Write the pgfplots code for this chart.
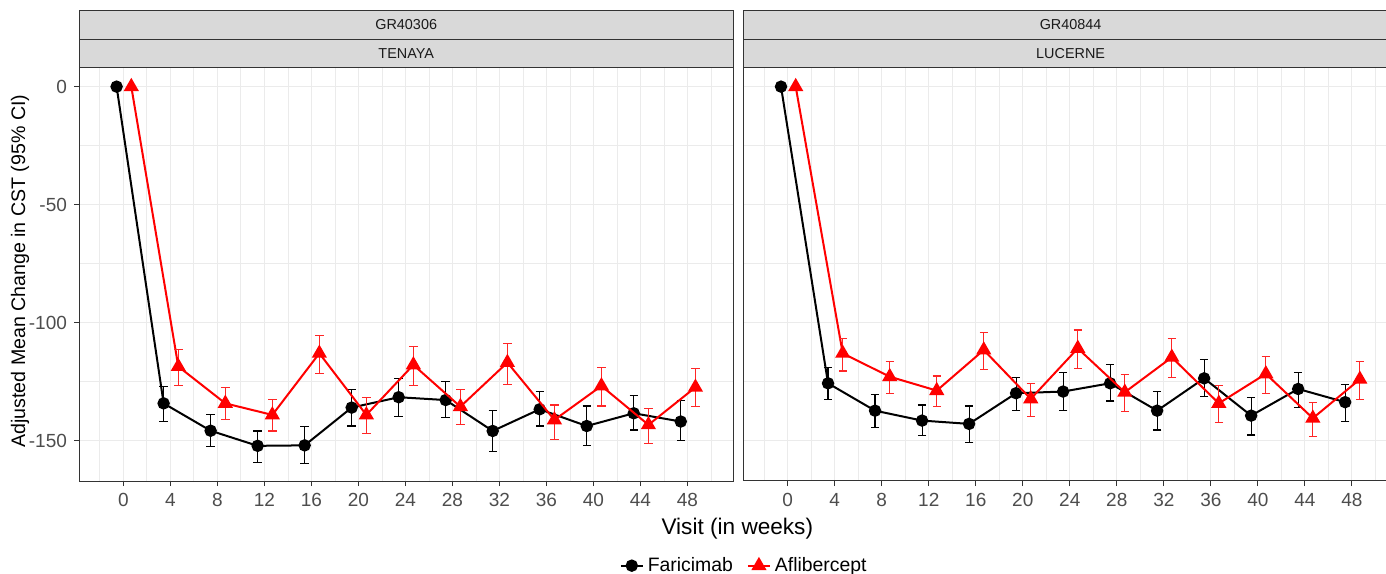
\documentclass[border=0pt]{standalone}
\usepackage{pgfplots}
\pgfplotsset{compat=1.18}
\usepackage{pgfplotstable}
\usepackage{fontspec}
\setmainfont{Liberation Sans}
\definecolor{g92}{HTML}{EBEBEB}
\definecolor{g20}{HTML}{333333}
\definecolor{g30}{HTML}{4D4D4D}
\definecolor{g85}{HTML}{D9D9D9}
\definecolor{g10}{HTML}{1A1A1A}

% week  y  lo  hi
\pgfplotstableread{
w y lo hi
0 0 0 0
4 -134.2 -141.9 -127.1
8 -145.8 -152.5 -138.8
12 -152.2 -159.3 -145.9
16 -152.0 -159.6 -144.1
20 -136.0 -143.8 -128.5
24 -131.6 -139.8 -123.6
28 -132.8 -140.1 -125.0
32 -145.9 -154.7 -137.3
36 -136.7 -143.8 -129.2
40 -143.8 -152.0 -135.3
44 -138.4 -145.5 -130.8
48 -141.9 -150.0 -133.0
}\tenF
\pgfplotstableread{
w y lo hi
0 0 0 0
4 -118.6 -126.7 -111.3
8 -134.2 -141.2 -127.5
12 -139.1 -145.9 -132.5
16 -113.0 -121.4 -105.6
20 -139.1 -146.9 -131.6
24 -117.9 -126.7 -110.2
28 -135.6 -143.3 -128.2
32 -116.9 -126.1 -108.7
36 -141.2 -149.4 -134.9
40 -126.8 -135.3 -119.1
44 -143.3 -151.1 -136.3
48 -127.4 -135.6 -119.3
}\tenA
\pgfplotstableread{
w y lo hi
0 0 0 0
4 -125.7 -132.5 -119.1
8 -137.3 -144.3 -130.6
12 -141.5 -147.9 -134.9
16 -142.9 -150.7 -135.3
20 -129.9 -137.3 -123.1
24 -129.2 -137.3 -121.0
28 -125.7 -133.2 -117.9
32 -137.3 -145.5 -129.2
36 -123.6 -131.4 -115.5
40 -139.4 -147.6 -131.8
44 -128.1 -135.9 -121.0
48 -133.7 -141.9 -126.1
}\lucF
\pgfplotstableread{
w y lo hi
0 0 0 0
4 -113.0 -120.5 -106.6
8 -122.9 -130.2 -116.5
12 -128.8 -135.6 -122.6
16 -111.6 -120.0 -104.1
20 -132.3 -139.8 -125.7
24 -110.9 -119.3 -103.1
28 -129.5 -137.7 -121.9
32 -114.7 -123.1 -106.6
36 -134.2 -142.4 -126.7
40 -121.7 -130.2 -114.4
44 -140.5 -148.3 -133.7
48 -124.0 -132.5 -116.5
}\lucA

\pgfplotsset{
  panel/.style={
    scale only axis, width=327.2pt, height=206.5pt,
    xmin=-3.77, xmax=51.91, ymin=-167.1, ymax=7.9,
    xtick={0,4,...,48},
    xticklabels={0,4,8,12,16,20,24,28,32,36,40,44,48},
    minor xtick={-2,2,...,50},
    ytick={-150,-100,-50,0},
    minor ytick={-125,-75,-25},
    grid=both,
    major grid style={draw=g92, line width=0.6pt},
    minor grid style={draw=g92, line width=0.35pt},
    axis line style={draw=g20, line width=0.5pt},
    tick style={draw=g20, line width=0.5pt},
    tick align=outside, major tick length=2.5pt, minor tick length=0pt,
    xtick pos=bottom, ytick pos=left,
    tick label style={font=\fontsize{9.5}{11}\selectfont, text=g30},
    clip mode=individual,
  },
  fari/.style={black, line width=1pt, mark=*, mark size=2.6pt,
    mark options={solid, fill=black},
    error bars/.cd, y dir=both, y explicit,
    error bar style={line width=0.55pt, black},
    error mark options={rotate=90, line width=0.55pt, mark size=2.1pt, black}},
  afli/.style={red, line width=1pt, mark=triangle*, mark size=3.4pt,
    mark options={solid, fill=red},
    error bars/.cd, y dir=both, y explicit,
    error bar style={line width=0.55pt, red!85},
    error mark options={rotate=90, line width=0.55pt, mark size=2.1pt, red!85}},
}

\newcommand{\strips}[2]{%
  \draw[fill=g85, draw=g20, line width=0.5pt] (rel axis cs:0,1) rectangle (rel axis cs:1,1.0695);
  \draw[fill=g85, draw=g20, line width=0.5pt] (rel axis cs:0,1.0695) rectangle (rel axis cs:1,1.1404);
  \node[font=\fontsize{7.2}{8}\selectfont, text=g10] at (rel axis cs:0.5,1.0348) {#2};
  \node[font=\fontsize{7.2}{8}\selectfont, text=g10] at (rel axis cs:0.5,1.1050) {#1};
}

\begin{document}
\begin{tikzpicture}
\useasboundingbox (0,0) rectangle (693pt,286.5pt);
\clip (0,0) rectangle (693pt,286.5pt);

\begin{axis}[panel, at={(39.5pt,46pt)}, anchor=south west,
  yticklabels={-150,-100,-50,0},
  ylabel={Adjusted Mean Change in CST (95\% CI)},
  ylabel style={at={(rel axis cs:-0.090,0.508)}, anchor=center, rotate=0, font=\fontsize{9.8}{11}\selectfont, text=black},
  xlabel={Visit (in weeks)},
  xlabel style={at={(rel axis cs:1.006,-0.116)}, anchor=center, font=\fontsize{11.3}{13}\selectfont, text=black},
  legend style={at={(rel axis cs:1.018,-0.205)}, anchor=center, draw=none, fill=none,
    legend columns=2, font=\fontsize{9.7}{11}\selectfont,
    /tikz/every even column/.append style={column sep=5pt}},
  legend image code/.code={\draw[mark repeat=2,mark phase=2] plot coordinates {(0pt,0pt)(5.5pt,0pt)(11pt,0pt)};},
]
\addplot[fari] table[x expr=\thisrow{w}-0.57, y=y,
  y error plus expr=\thisrow{hi}-\thisrow{y}, y error minus expr=\thisrow{y}-\thisrow{lo}] {\tenF};
\addlegendentry{Faricimab}
\addplot[afli] table[x expr=\thisrow{w}+0.68, y=y,
  y error plus expr=\thisrow{hi}-\thisrow{y}, y error minus expr=\thisrow{y}-\thisrow{lo}] {\tenA};
\addlegendentry{Aflibercept}
\strips{GR40306}{TENAYA}
\end{axis}

\begin{axis}[panel, at={(371.7pt,46pt)}, anchor=south west,
  yticklabels={}, ytick style={draw=none},
]
\addplot[fari] table[x expr=\thisrow{w}-0.57, y=y,
  y error plus expr=\thisrow{hi}-\thisrow{y}, y error minus expr=\thisrow{y}-\thisrow{lo}] {\lucF};
\addplot[afli] table[x expr=\thisrow{w}+0.68, y=y,
  y error plus expr=\thisrow{hi}-\thisrow{y}, y error minus expr=\thisrow{y}-\thisrow{lo}] {\lucA};
\strips{GR40844}{LUCERNE}
\end{axis}
\end{tikzpicture}
\end{document}
